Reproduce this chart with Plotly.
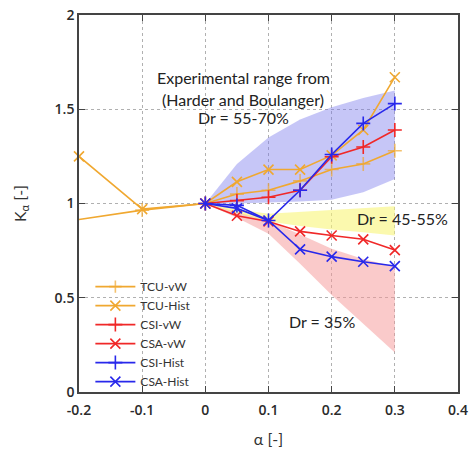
import plotly.graph_objects as go

# ---- data ----
alpha_tcu = [-0.2, -0.1, 0, 0.05, 0.1, 0.15, 0.2, 0.25, 0.3]
tcu_vw = [0.915, 0.965, 1.0, 1.05, 1.07, 1.12, 1.18, 1.21, 1.28]
tcu_hist = [1.25, 0.97, 1.0, 1.115, 1.18, 1.18, 1.255, 1.39, 1.67]

alpha_cs = [0, 0.05, 0.1, 0.15, 0.2, 0.25, 0.3]
csi_vw = [1.0, 1.015, 1.033, 1.07, 1.248, 1.30, 1.39]
csa_vw = [1.0, 0.935, 0.905, 0.852, 0.83, 0.81, 0.753]
csi_hist = [1.0, 0.99, 0.91, 1.07, 1.26, 1.425, 1.53]
csa_hist = [1.0, 0.974, 0.91, 0.757, 0.718, 0.691, 0.668]

band_x = [0, 0.05, 0.1, 0.15, 0.2, 0.25, 0.3]
blue_upper = [1.0, 1.21, 1.35, 1.445, 1.51, 1.56, 1.60]
blue_lower = [1.0, 1.0, 1.005, 1.01, 1.02, 1.06, 1.13]
yellow_upper = [1.0, 0.97, 0.945, 0.955, 0.965, 0.975, 0.985]
yellow_lower = [1.0, 0.95, 0.905, 0.88, 0.862, 0.848, 0.83]
pink_upper = [1.0, 0.955, 0.91, 0.835, 0.76, 0.705, 0.665]
pink_lower = [1.0, 0.925, 0.84, 0.68, 0.515, 0.36, 0.21]

x_ticks = [-0.2, -0.1, 0, 0.1, 0.2, 0.3, 0.4]
x_ticklabels = ["-0.2", "-0.1", "0", "0.1", "0.2", "0.3", "0.4"]
y_ticks = [0, 0.5, 1, 1.5, 2]
y_ticklabels = ["0", "0.5", "1", "1.5", "2"]

ORANGE = "rgb(240,168,48)"
RED = "rgb(240,40,40)"
BLUE = "rgb(40,40,235)"

fig = go.Figure()


def band(upper, lower, color):
    fig.add_trace(go.Scatter(
        x=band_x + band_x[::-1], y=upper + lower[::-1],
        fill="toself", fillcolor=color, line=dict(width=0),
        mode="lines", hoverinfo="skip", showlegend=False))


band(pink_upper, pink_lower, "rgba(245,150,150,0.5)")
band(yellow_upper, yellow_lower, "rgba(248,245,120,0.6)")
band(blue_upper, blue_lower, "rgba(120,120,235,0.42)")


def series(x, y, name, color, symbol, sizes=None):
    fig.add_trace(go.Scatter(
        x=x, y=y, name=name, mode="lines+markers",
        line=dict(color=color, width=1.6),
        marker=dict(symbol=symbol, size=sizes if sizes else 10,
                    color=color, line=dict(color=color, width=1.6)),
        cliponaxis=False))


tcu_vw_sizes = [0 if a <= -0.2 else 10 for a in alpha_tcu]
series(alpha_tcu, tcu_vw, "TCU-vW", ORANGE, "cross-thin", tcu_vw_sizes)
series(alpha_tcu, tcu_hist, "TCU-Hist", ORANGE, "x-thin")
series(alpha_cs, csi_vw, "CSI-vW", RED, "cross-thin")
series(alpha_cs, csa_vw, "CSA-vW", RED, "x-thin")
series(alpha_cs, csi_hist, "CSI-Hist", BLUE, "cross-thin")
series(alpha_cs, csa_hist, "CSA-Hist", BLUE, "x-thin")

ann_font = dict(family="Lato", size=16, color="#222")
for txt, x, y in [("Experimental range from", 0.06, 1.671),
                  ("(Harder and Boulanger)", 0.06, 1.554),
                  ("Dr = 55-70%", 0.06, 1.454),
                  ("Dr = 45-55%", 0.312, 0.923),
                  ("Dr = 35%", 0.186, 0.373)]:
    fig.add_annotation(x=x, y=y, text=txt, showarrow=False, font=ann_font,
                       xanchor="center", yanchor="middle")

tick_font = dict(family="Open Sans", size=14, color="#2a2a2a", weight=600)
axis_common = dict(showline=True, linecolor="#444", linewidth=1.5, mirror="ticks",
                   ticks="inside", ticklen=6, tickcolor="#444", tickwidth=1.2,
                   showgrid=True, gridcolor="#b0b0b0", griddash="dot", gridwidth=1,
                   zeroline=False, tickfont=tick_font, automargin=False)

fig.update_xaxes(range=[-0.2, 0.4], tickvals=x_ticks, ticktext=x_ticklabels,
                 ticklabelstandoff=4,
                 title=dict(text="α [-]", font=dict(family="Lato", size=16, color="#333"),
                            standoff=16),
                 **axis_common)
fig.update_yaxes(range=[0, 2], tickvals=y_ticks, ticktext=y_ticklabels,
                 title=dict(text="K<sub>α</sub> [-]", font=dict(family="Lato", size=16, color="#333"),
                            standoff=24),
                 **axis_common)

fig.update_layout(
    width=470, height=452,
    margin=dict(l=79, r=12, t=15, b=60),
    paper_bgcolor="white", plot_bgcolor="white",
    legend=dict(x=0.03, y=0.318, xanchor="left", yanchor="top",
                bgcolor="rgba(0,0,0,0)", font=dict(family="Lato", size=12, color="#333"),
                itemwidth=40, tracegroupgap=0),
    showlegend=True,
)

fig.write_html("out.html")
